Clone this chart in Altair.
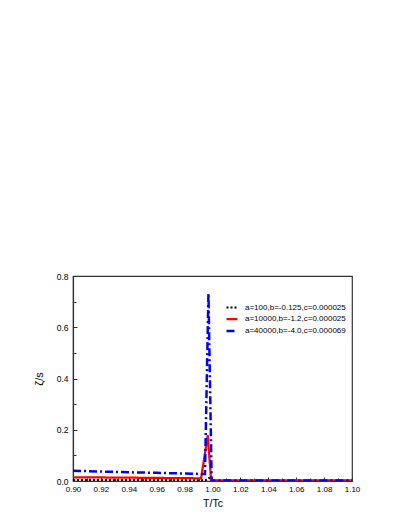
import altair as alt
import pandas as pd

series_labels = [
    "a=100,b=-0.125,c=0.000025",
    "a=10000,b=-1.2,c=0.000025",
    "a=40000,b=-4.0,c=0.000069",
]
series_colors = ["#000000", "#ff0000", "#0000ff"]

black_x = [0.90, 0.92, 0.94, 0.96, 0.98, 0.995, 0.9975, 0.9995, 1.02, 1.04, 1.06, 1.08, 1.10]
black_y = [0.004, 0.004, 0.0038, 0.0035, 0.0033, 0.003, 0.012, 0.001, 0.001, 0.001, 0.001, 0.001, 0.001]

red_x = [0.90, 0.92, 0.94, 0.96, 0.98, 0.9918, 0.9966, 0.9990, 1.02, 1.04, 1.06, 1.08, 1.10]
red_y = [0.0145, 0.0138, 0.013, 0.012, 0.011, 0.0105, 0.178, 0.002, 0.002, 0.002, 0.002, 0.002, 0.002]

blue_x = [0.90, 0.92, 0.94, 0.96, 0.98, 0.9946, 0.9971, 0.9994, 1.02, 1.04, 1.06, 1.08, 1.10]
blue_y = [0.040, 0.037, 0.034, 0.032, 0.029, 0.027, 0.733, 0.002, 0.002, 0.002, 0.002, 0.002, 0.002]

x_major = [0.90, 0.92, 0.94, 0.96, 0.98, 1.00, 1.02, 1.04, 1.06, 1.08, 1.10]
x_minor = [0.91, 0.93, 0.95, 0.97, 0.99, 1.01, 1.03, 1.05, 1.07, 1.09]
y_major = [0.0, 0.2, 0.4, 0.6, 0.8]
y_minor = [0.1, 0.3, 0.5, 0.7]

rows = []
for lab, xs, ys in zip(series_labels, [black_x, red_x, blue_x], [black_y, red_y, blue_y]):
    for i, (xv, yv) in enumerate(zip(xs, ys)):
        rows.append({"series": lab, "x": xv, "y": yv, "order": i})
df = pd.DataFrame(rows)

FONT = "Liberation Sans"
AX = "#333333"

xscale = alt.Scale(domain=[0.9, 1.1], nice=False, zero=False)
yscale = alt.Scale(domain=[0.0, 0.8], nice=False, zero=False)

leg = alt.Legend(
    title=None,
    orient="none",
    legendX=152,
    legendY=25,
    symbolType="stroke",
    symbolSize=121,
    labelFont=FONT,
    labelFontSize=8,
    labelColor="#000000",
    labelOffset=6,
    padding=0,
    rowPadding=0,
    symbolStrokeWidth=2.5,
)

lines = alt.Chart(df).mark_line(clip=True).encode(
    x=alt.X("x:Q", scale=xscale, axis=alt.Axis(
        orient="bottom", values=x_major, format=".2f", title="T/Tc", ticks=False,
        domainColor=AX, domainWidth=1.2, grid=False, labelFont=FONT, labelFontSize=8,
        labelColor="#000", labelPadding=4, titleFont=FONT, titleFontSize=10.5,
        titleFontWeight="normal", titleColor="#000", titlePadding=5, labelFlush=False)),
    y=alt.Y("y:Q", scale=yscale, axis=alt.Axis(
        orient="left", values=y_major, format=".1f", title="ζ/s", ticks=False,
        domainColor=AX, domainWidth=1.2, grid=False, labelFont=FONT, labelFontSize=8.5,
        labelColor="#000", labelPadding=5, titleFont=FONT, titleFontSize=11,
        titleFontWeight="normal", titleColor="#000", titlePadding=12, labelFlush=False)),
    color=alt.Color("series:N", scale=alt.Scale(domain=series_labels, range=series_colors), legend=leg),
    strokeDash=alt.StrokeDash("series:N", scale=alt.Scale(domain=series_labels, range=[[2, 2], [1, 0], [8, 3, 2, 3]]), legend=leg),
    strokeWidth=alt.StrokeWidth("series:N", scale=alt.Scale(domain=series_labels, range=[2, 2.5, 3]), legend=leg),
    order="order:Q",
)

def tick_layer(xvals, yvals, size):
    return alt.Chart(df).mark_point(opacity=0).encode(
        x=alt.X("x:Q", scale=xscale, axis=alt.Axis(
            orient="bottom", values=xvals, labels=False, domain=False, grid=False,
            title=None, ticks=True, tickSize=size, offset=-size, tickColor=AX, tickWidth=1)),
        y=alt.Y("y:Q", scale=yscale, axis=alt.Axis(
            orient="left", values=yvals, labels=False, domain=False, grid=False,
            title=None, ticks=True, tickSize=size, offset=-size, tickColor=AX, tickWidth=1)),
    )

chart = alt.layer(
    lines,
    tick_layer(x_major, y_major, 4),
    tick_layer(x_minor, y_minor, 3),
).resolve_axis(x="independent", y="independent").properties(
    width=279,
    height=205,
    autosize=alt.AutoSizeParams(type="none"),
    padding={"left": 65, "top": 268, "right": 49, "bottom": 40},
    background="white",
).configure_view(stroke=AX, strokeWidth=1.2)

chart.save("out.html", embed_options={"renderer": "svg", "actions": False})
